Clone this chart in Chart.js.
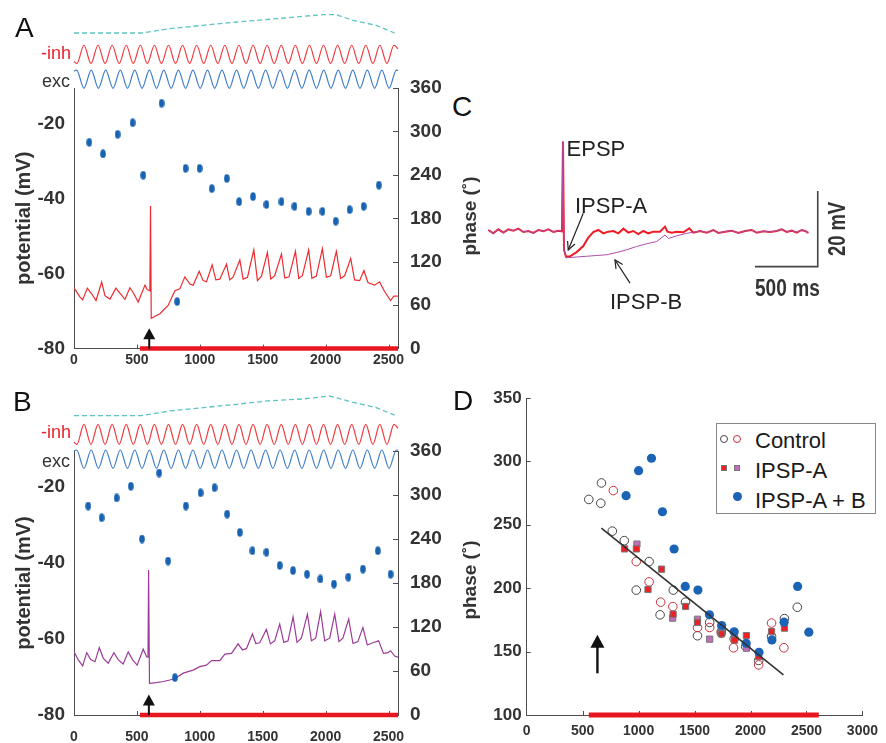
<!DOCTYPE html>
<html><head><meta charset="utf-8"><title>Phase precession figure</title>
<script src="https://cdn.jsdelivr.net/npm/chart.js@4.4.1/dist/chart.umd.min.js"></script>
<style>
html,body{margin:0;padding:0;background:#fff;}
body{position:relative;width:886px;height:743px;overflow:hidden;font-family:'Liberation Sans',Arial,sans-serif;color:#222;}
canvas{position:absolute;}
.t{position:absolute;white-space:nowrap;line-height:1;}
.rot{position:absolute;white-space:nowrap;line-height:1;transform:translate(-50%,-50%) rotate(-90deg);}
.mk{position:absolute;box-sizing:border-box;}
</style></head><body>
<canvas id="cA" width="450" height="372" style="left:0;top:0"></canvas>
<canvas id="cB" width="450" height="371" style="left:0;top:372px"></canvas>
<canvas id="cC" width="400" height="190" style="left:480px;top:120px"></canvas>
<canvas id="cD" width="426" height="363" style="left:460px;top:380px"></canvas>

<div class="t" style="left:15px;top:14.4px;font-size:28px;color:#111">A</div>
<div class="t" style="left:13px;top:388px;font-size:28px;color:#111">B</div>
<div class="t" style="left:452px;top:93.4px;font-size:28px;color:#111">C</div>
<div class="t" style="left:453px;top:387px;font-size:28px;color:#111">D</div>

<div class="t" style="left:0;width:71px;text-align:right;top:44px;font-size:18px;color:#e8242a">-inh</div>
<div class="t" style="left:0;width:70px;text-align:right;top:72px;font-size:18px;color:#333">exc</div>
<div class="t" style="left:0;width:71px;text-align:right;top:422.5px;font-size:18px;color:#e8242a">-inh</div>
<div class="t" style="left:0;width:70px;text-align:right;top:451.5px;font-size:18px;color:#333">exc</div>

<div class="rot" style="left:468.5px;top:216px;font-size:19px;font-weight:bold;color:#333">phase (˚)</div>
<div class="rot" style="left:469px;top:580px;font-size:19px;font-weight:bold;color:#333">phase (˚)</div>

<div class="t" style="left:566.6px;top:138px;font-size:22px;color:#222">EPSP</div>
<div class="t" style="left:575px;top:194.7px;font-size:22px;color:#222">IPSP-A</div>
<div class="t" style="left:610px;top:291.4px;font-size:22px;color:#222">IPSP-B</div>
<div class="rot" style="left:837px;top:229px;font-size:23px;font-weight:bold;color:#333;transform:translate(-50%,-50%) rotate(-90deg) scaleX(0.8)">20 mV</div>
<div class="t" style="left:755px;top:277px;font-size:23px;font-weight:bold;color:#333;transform-origin:0 0;transform:scaleX(0.83)">500 ms</div>

<div style="position:absolute;left:716px;top:423px;width:158px;height:89px;border:1px solid #888;background:#fff"></div>
<span class="mk" style="left:720.3px;top:435.3px;width:8px;height:8px;border:1px solid #444;border-radius:50%"></span>
<span class="mk" style="left:733.3px;top:435.3px;width:8px;height:8px;border:1px solid #c8303a;border-radius:50%"></span>
<span class="mk" style="left:721.3px;top:464.7px;width:6px;height:6px;background:#ec2025;border:1px solid #777"></span>
<span class="mk" style="left:734.3px;top:464.7px;width:6px;height:6px;background:#c46cbc;border:1px solid #777"></span>
<span class="mk" style="left:732.8px;top:492.2px;width:9px;height:9px;background:#1b63b5;border-radius:50%"></span>
<div class="t" style="left:755px;top:429.7px;font-size:22px;color:#1a1a1a">Control</div>
<div class="t" style="left:755px;top:459.7px;font-size:22px;color:#1a1a1a">IPSP-A</div>
<div class="t" style="left:755px;top:489.7px;font-size:22px;color:#1a1a1a">IPSP-A + B</div>

<script>
// ---------- data ----------
const timeTicks = [0, 500, 1000, 1500, 2000, 2500];
const mvTicks = [-80, -60, -40, -20];
const phaseTicks = [0, 60, 120, 180, 240, 300, 360];

// panel A: membrane potential (ms, mV)
const potTimeA = [0,48,69,106,140,175,220,246,286,333,365,405,444,476,510,564,582,603,608,614,683,748,802,841,881,921,947,995,1026,1053,1098,1127,1159,1212,1238,1264,1318,1344,1379,1429,1458,1490,1537,1564,1595,1649,1675,1709,1760,1786,1815,1865,1891,1926,1974,2006,2040,2085,2119,2151,2199,2230,2270,2304,2336,2389,2429,2468,2516,2542,2574];
const potA = [-63.8,-66.3,-67.0,-63.9,-65.4,-67.2,-62.3,-65.9,-66.8,-63.9,-65.2,-66.9,-63.8,-65.4,-67.6,-63.1,-64.3,-64.6,-42.0,-71.9,-70.7,-68.5,-64.6,-64.1,-60.9,-62.8,-63.1,-59.4,-61.9,-62.2,-57.7,-61.7,-61.5,-57.5,-61.7,-61.0,-56.4,-61.5,-61.0,-53.7,-61.9,-60.7,-54.4,-61.5,-60.6,-54.8,-61.2,-60.9,-54.1,-61.3,-60.6,-53.7,-61.3,-60.7,-53.4,-61.0,-60.6,-54.1,-61.3,-60.6,-56.0,-61.7,-61.9,-59.2,-62.4,-63.1,-62.2,-64.8,-67.2,-66.0,-66.0];
// panel A: spike phase (ms, deg)
const phaseTimeA = [121,230,347,466,550,696,820,887,998,1095,1214,1312,1423,1529,1649,1752,1865,1974,2080,2191,2302,2423];
const phaseA = [285,269,296,312,239.5,339,65,249,249,221,235,203,210,199,203,196.5,189.6,189.6,176,192,196.5,225.8];

// panel B
const potTimeB = [0,34,69,101,133,167,201,233,272,317,352,391,431,466,502,550,577,588,593,600,656,709,762,802,868,907,947,1000,1053,1093,1159,1199,1252,1304,1339,1371,1418,1445,1476,1529,1561,1595,1635,1667,1701,1741,1772,1807,1855,1887,1921,1960,1992,2032,2072,2106,2137,2183,2217,2256,2296,2331,2376,2421,2460,2495,2516,2548,2575];
const potB = [-63.4,-65.5,-67.1,-63.6,-65.4,-66.0,-62.3,-65.1,-66.4,-63.6,-65.5,-66.6,-63.4,-65.5,-66.9,-62.7,-64.7,-64.8,-41.9,-71.7,-71.5,-71.2,-70.8,-70.4,-69.0,-68.6,-68.2,-67.3,-66.9,-65.7,-65.7,-64.0,-63.8,-61.3,-62.9,-62.5,-58.7,-61.2,-61.0,-57.5,-61.3,-60.5,-56.1,-60.9,-60.5,-54.2,-60.9,-59.8,-53.5,-60.5,-59.8,-52.8,-60.5,-59.8,-53.5,-60.7,-59.8,-54.8,-61.2,-60.7,-57.0,-61.6,-61.0,-60.5,-63.8,-63.6,-63.1,-64.5,-64.8];
const phaseTimeB = [113,220,339,452,540,677,748,802,889,1006,1117,1217,1318,1418,1529,1635,1741,1852,1958,2066,2180,2296,2415,2516];
const phaseB = [285,269,296,312,240,330,210,51,285,303,310,274,249,224,222,204,197,192,185.5,178.6,188,199,224,192];

// input oscillations (peak / trough times in ms, normalised amplitude)
const inhPeakT = [79,191,303,415,527,639,751,863,975,1087,1199,1311,1423,1535,1647,1759,1871,1983,2095,2207,2319,2431,2543];
const inhTroughT = [23,135,247,359,471,583,695,807,919,1031,1143,1255,1367,1479,1591,1703,1815,1927,2039,2151,2263,2375,2487];
const inhEnds = [-0.8, 0.6];
const excPeakT = [21,137,252,368,483,599,714,830,945,1061,1176,1292,1407,1523,1638,1754,1869,1985,2100,2216,2331,2447,2562];
const excTroughT = [79,194,310,425,541,656,772,887,1003,1118,1234,1349,1465,1580,1696,1811,1927,2042,2158,2273,2389,2504];
const excEnds = [0.9, 0.95];
// slow envelope (dashed)
const envTimeA = [0,537,762,1026,1291,1556,1820,1979,2085,2217,2402,2548];
const envA = [0,0,0.24,0.42,0.6,0.75,0.91,1,1,0.69,0.42,0];
const envTimeB = [0,530,762,1026,1291,1556,1820,2032,2217,2402,2548];
const envB = [0,0,0.24,0.41,0.58,0.76,0.85,1,0.68,0.41,0.03];
// stimulation bars and arrows (ms)
const stimA = [524, 2575];
const stimD = [555, 2610];
const arrowTimeA = 598, arrowTimeB = 595, arrowTimeD = 632;

// panel C: traces (ms, mV relative to rest)
const cTimeA = [0,40,80,120,160,200,240,280,320,360,400,440,479,519,559,588,596,604,620,652,705,758,798,838,878,918,958,998,1038,1078,1117,1157,1197,1237,1277,1317,1370,1410,1429,1463,1503,1557,1604,1636,1690,1743,1796,1836,1889,1942,1995,2049,2102,2142,2195,2248,2301,2341,2381,2421,2461,2501,2527,2554];
const cIpspA = [0.44,-0.44,0.62,-0.26,0.62,0.26,0.79,-0.09,0.18,-0.35,0.44,0.09,0.62,-0.09,0.26,0.09,23.8,-4.84,-6.6,-6.5,-5.4,-3.8,-1.6,-0.09,0.44,-0.44,0,0.18,-0.44,0.79,-0.26,0.18,-0.62,0.18,-0.44,0,0,1.32,0,-0.26,0,-0.18,0.88,-0.26,0.18,-0.26,0.44,-0.35,0,0.26,-0.35,0.18,0.44,-0.26,0.09,-0.09,0.18,0.62,-0.09,0.26,-0.26,0.44,0.18,-0.35];
const cTimeB = [620,705,785,865,945,1025,1104,1184,1264,1344,1410,1437,1503,1583,1663];
const cIpspB = [-6.9,-6.7,-6.5,-6.3,-6.1,-5.5,-4.8,-3.9,-3.2,-2.6,-0.9,-1.8,-1.1,-0.44,0];
const scaleBarT = [2128, 2629];
const scaleBarV = [-9.25, 10.75];

// panel D: phase vs time
const ctrlBlackT = [555,662,668,765,872,979,1094,1192,1310,1419,1526,1635,1739,1854,1957,2073,2188,2303,2418];
const ctrlBlackP = [270,267,283,245,237.5,198.5,221,179,198.5,189,162.5,173,166,160,154,143,162,176,185];
const ctrlRedT = [774,979,1094,1197,1306,1526,1635,1739,1848,2073,2188,2298];
const ctrlRedP = [277,221,205,189,185.5,169,169,164.5,153,139.5,172.5,153];
const ipspRedT = [874,980,1084,1205,1308,1420,1526,1741,1857,1963,2073,2188,2303];
const ipspRedP = [231,231,199,215,179.5,185.6,173,164,159,162.6,146,165.8,168.5];
const ipspPurpleT = [985,1304,1526,1635,1741,1857,1963];
const ipspPurpleP = [234.8,176.4,175.5,159.8,166,161,152.7];
const ipspABT = [888,1000,1115,1213,1317,1417,1530,1633,1742,1854,1961,2076,2191,2300,2421,2521];
const ipspABP = [273,292.7,302.5,260.3,230.9,201.4,198.5,179,170.6,165.6,156.6,149.5,159.2,173.2,201.4,165.3];
const fitT = [667, 2294];
const fitP = [247.4, 131.6];
const dTimeTicks = [0,500,1000,1500,2000,2500,3000];
const dPhaseTicks = [100,150,200,250,300,350];

// ---------- helpers ----------
const SANS = "'Liberation Sans', Arial, sans-serif";
Chart.defaults.font.family = SANS;
Chart.defaults.color = '#333';

function zip(xs, ys){ const n=Math.min(xs.length, ys.length), out=[]; for(let i=0;i<n;i++) out.push({x:xs[i], y:ys[i]}); return out; }
function wave(peaks, troughs, ends, tEnd){
  const pts=[{x:0,y:ends[0]}];
  peaks.forEach(t=>pts.push({x:t,y:1}));
  troughs.forEach(t=>pts.push({x:t,y:-1}));
  pts.sort((a,b)=>a.x-b.x);
  pts.push({x:tEnd,y:ends[1]});
  return pts;
}
// axis range so that value vLow sits at pixel pLow and vHigh at pHigh (page coords)
function bandRange(pLow, pHigh, vLow, vHigh, top, bottom){
  const k=(pLow-pHigh)/(vHigh-vLow);
  const min=vLow-(bottom-pLow)/k;
  return {min, max:min+(bottom-top)/k};
}
const fixTicks = vals => s => { s.ticks = vals.map(v=>({value:v})); };
const plain = v => String(v);

const innerTicks = {
  id:'innerTicks',
  beforeDatasetsDraw(chart, args, opts){
    const ctx=chart.ctx, ca=chart.chartArea;
    (opts.items||[]).forEach(it=>{
      const s=chart.scales[it.scale];
      ctx.save(); ctx.strokeStyle=it.color||'#555'; ctx.lineWidth=1;
      it.values.forEach(v=>{
        const p=Math.round(s.getPixelForValue(v))+0.5;
        ctx.beginPath();
        if (s.isHorizontal()) { ctx.moveTo(p, ca.bottom); ctx.lineTo(p, ca.bottom-it.len); }
        else if (s.position==='left') { ctx.moveTo(ca.left, p); ctx.lineTo(ca.left+it.len, p); }
        else { ctx.moveTo(ca.right, p); ctx.lineTo(ca.right-it.len, p); }
        ctx.stroke();
      });
      ctx.restore();
    });
  }
};
const arrows = {
  id:'arrows',
  afterDatasetsDraw(chart, args, opts){
    const ctx=chart.ctx;
    (opts.items||[]).forEach(a=>{
      const xs=chart.scales[a.xAxis||'x'], ys=chart.scales[a.yAxis||'y'];
      const x0=xs.getPixelForValue(a.x0), y0=ys.getPixelForValue(a.y0);
      const x1=xs.getPixelForValue(a.x1), y1=ys.getPixelForValue(a.y1);
      const ang=Math.atan2(y1-y0, x1-x0), c=Math.cos(ang), s=Math.sin(ang);
      ctx.save(); ctx.strokeStyle=a.color; ctx.fillStyle=a.color; ctx.lineWidth=a.width; ctx.lineCap='butt';
      const back = a.filled ? a.headLen*0.8 : 0;
      ctx.beginPath(); ctx.moveTo(x0,y0); ctx.lineTo(x1-c*back, y1-s*back); ctx.stroke();
      const hx=x1-c*a.headLen, hy=y1-s*a.headLen, px=-s*a.headW/2, py=c*a.headW/2;
      ctx.beginPath(); ctx.moveTo(hx+px, hy+py); ctx.lineTo(x1,y1); ctx.lineTo(hx-px, hy-py);
      if (a.filled) { ctx.closePath(); ctx.fill(); } else { ctx.stroke(); }
      ctx.restore();
    });
  }
};

// vertical elliptic spike marker
const dotImg = document.createElement('canvas'); dotImg.width=6; dotImg.height=9;
(function(){ const c=dotImg.getContext('2d'); c.fillStyle='#1862b2'; c.beginPath(); c.ellipse(3,4.5,2.8,4.3,0,0,Math.PI*2); c.fill(); })();

const axisColor = '#4d4d4d';

function panelAB(id, d){
  const top=d.pageTop, areaTop=d.areaTop, areaBottom=d.areaBottom; // page coords
  return new Chart(document.getElementById(id), {
    type:'scatter',
    plugins:[innerTicks, arrows],
    data:{datasets:[
      {data:[{x:d.stim[0],y:-80},{x:d.stim[1],y:-80}], showLine:true, borderColor:'#e8171f', borderWidth:4.5, pointRadius:0, clip:false, yAxisID:'y'},
      {data:zip(d.phaseT, d.phase), yAxisID:'yR', pointStyle:dotImg, pointRadius:4, showLine:false},
      {data:zip(d.potT, d.pot), yAxisID:'y', showLine:true, borderColor:d.potColor, borderWidth:1.2, pointRadius:0, tension:0},
      {data:wave(excPeakT, excTroughT, excEnds, 2575), yAxisID:'yExc', showLine:true, borderColor:'#3e7dca', borderWidth:1.2, pointRadius:0, cubicInterpolationMode:'monotone', clip:false},
      {data:wave(inhPeakT, inhTroughT, inhEnds, 2575), yAxisID:'yInh', showLine:true, borderColor:'#ef3b40', borderWidth:1.2, pointRadius:0, cubicInterpolationMode:'monotone', clip:false},
      {data:zip(d.envT, d.env), yAxisID:'yEnv', showLine:true, borderColor:'#5cc4c4', borderWidth:1.3, borderDash:[5,3], pointRadius:0, clip:false}
    ]},
    options:{
      responsive:false, animation:false, events:[],
      layout:{padding:{top:areaTop-top, left:0, right:0, bottom:0}},
      plugins:{legend:{display:false}, tooltip:{enabled:false},
        innerTicks:{items:[{scale:'x', values:timeTicks.slice(1), len:4, color:axisColor},{scale:'yR', values:phaseTicks, len:5, color:axisColor}]},
        arrows:{items:[{x0:d.arrowT, y0:-80, x1:d.arrowT, y1:-74.6, headLen:11, headW:12, width:2, color:'#111', filled:true}]}
      },
      scales:{
        x:{type:'linear', position:'bottom', min:0, max:2575, afterFit:s=>{s.height=d.xH;}, afterBuildTicks:fixTicks(timeTicks),
           grid:{display:false, drawTicks:false}, border:{display:true, color:axisColor, width:1},
           ticks:{padding:d.xPad, autoSkip:false, maxRotation:0, color:'#333', callback:plain, font:{family:SANS, size:14, weight:'bold'}}},
        y:{position:'left', min:-80, max:-10.6, afterFit:s=>{s.width=74;}, afterBuildTicks:fixTicks(mvTicks),
           grid:{display:false, drawTicks:false}, border:{display:true, color:axisColor, width:1},
           title:{display:true, text:'potential (mV)', color:'#333', font:{family:SANS, size:20, weight:'bold'}, padding:{top:12, bottom:0}},
           ticks:{padding:9, color:'#333', callback:plain, font:{family:SANS, size:19, weight:'bold'}}},
        yR:{position:'right', min:0, max:360, afterFit:s=>{s.width=52;}, afterBuildTicks:fixTicks(phaseTicks),
           grid:{display:false, drawTicks:false}, border:{display:true, color:axisColor, width:1},
           ticks:{padding:12, color:'#333', callback:plain, font:{family:SANS, size:19, weight:'bold'}}},
        yExc:Object.assign({display:false}, bandRange(d.exc[0], d.exc[1], -1, 1, areaTop, areaBottom)),
        yInh:Object.assign({display:false}, bandRange(d.inh[0], d.inh[1], -1, 1, areaTop, areaBottom)),
        yEnv:Object.assign({display:false}, bandRange(d.envPx[0], d.envPx[1], 0, 1, areaTop, areaBottom))
      }
    }
  });
}

panelAB('cA', {pageTop:0, areaTop:88, areaBottom:350, xH:22, xPad:3,
  stim:stimA, phaseT:phaseTimeA, phase:phaseA, potT:potTimeA, pot:potA, potColor:'#ee2b30',
  envT:envTimeA, env:envA, exc:[88.3,70], inh:[63.3,45], envPx:[32.7,14.3], arrowT:arrowTimeA});
panelAB('cB', {pageTop:372, areaTop:451, areaBottom:715, xH:28, xPad:14,
  stim:stimA, phaseT:phaseTimeB, phase:phaseB, potT:potTimeB, pot:potB, potColor:'#9c3c98',
  envT:envTimeB, env:envB, exc:[468.3,450], inh:[444.3,424.3], envPx:[415.7,396], arrowT:arrowTimeB});

// ---------- panel C ----------
const purplePts = zip(cTimeA, cIpspA).filter(p=>p.x<=604).concat(zip(cTimeB, cIpspB), zip(cTimeA, cIpspA).filter(p=>p.x>=1690));
new Chart(document.getElementById('cC'), {
  type:'scatter',
  plugins:[arrows],
  data:{datasets:[
    {data:purplePts, showLine:true, borderColor:'#b04aa8', borderWidth:1, pointRadius:0},
    {data:zip(cTimeA, cIpspA), showLine:true, borderColor:'#ee1d25', borderWidth:2, pointRadius:0},
    {data:[{x:scaleBarT[0],y:scaleBarV[0]},{x:scaleBarT[1],y:scaleBarV[0]},{x:scaleBarT[1],y:scaleBarV[1]}], showLine:true, borderColor:'#444', borderWidth:1.6, pointRadius:0}
  ]},
  options:{
    responsive:false, animation:false, events:[],
    layout:{padding:0},
    plugins:{legend:{display:false}, tooltip:{enabled:false},
      arrows:{items:[
        {x0:758, y0:4.86, x1:638, y1:-4.83, headLen:8, headW:8, width:1.2, color:'#222', filled:false},
        {x0:1131, y0:-13.6, x1:1011, y1:-7.48, headLen:8, headW:8, width:1.2, color:'#222', filled:false}
      ]}},
    scales:{ x:{display:false, min:-66.2, max:3125.8}, y:{display:false, min:-20.7, max:29.5} }
  }
});

// ---------- panel D ----------
new Chart(document.getElementById('cD'), {
  type:'scatter',
  plugins:[innerTicks, arrows],
  data:{datasets:[
    {data:[{x:stimD[0],y:100},{x:stimD[1],y:100}], showLine:true, borderColor:'#e8171f', borderWidth:5, pointRadius:0, clip:false},
    {data:zip(fitT, fitP), showLine:true, borderColor:'#333', borderWidth:1.6, pointRadius:0},
    {data:zip(ipspABT, ipspABP), pointStyle:'circle', pointRadius:4.6, backgroundColor:'#1b63b5', borderWidth:0},
    {data:zip(ipspRedT, ipspRedP), pointStyle:'rect', pointRadius:4.4, backgroundColor:'#ec2025', borderColor:'#777', borderWidth:1},
    {data:zip(ipspPurpleT, ipspPurpleP), pointStyle:'rect', pointRadius:4.4, backgroundColor:'#c46cbc', borderColor:'#777', borderWidth:1},
    {data:zip(ctrlRedT, ctrlRedP), pointStyle:'circle', pointRadius:4.3, backgroundColor:'rgba(0,0,0,0)', borderColor:'#c8303a', borderWidth:1},
    {data:zip(ctrlBlackT, ctrlBlackP), pointStyle:'circle', pointRadius:4.3, backgroundColor:'rgba(0,0,0,0)', borderColor:'#444', borderWidth:1}
  ]},
  options:{
    responsive:false, animation:false, events:[],
    layout:{padding:{top:18, left:0, right:12, bottom:0}},
    plugins:{legend:{display:false}, tooltip:{enabled:false},
      innerTicks:{items:[{scale:'x', values:dTimeTicks.slice(1), len:4, color:axisColor},{scale:'y', values:dPhaseTicks, len:4, color:axisColor}]},
      arrows:{items:[{x0:arrowTimeD, y0:132.9, x1:arrowTimeD, y1:163.2, headLen:13, headW:14, width:2.4, color:'#111', filled:true}]}
    },
    scales:{
      x:{type:'linear', min:0, max:3000, afterFit:s=>{s.height=28;}, afterBuildTicks:fixTicks(dTimeTicks),
         grid:{display:false, drawTicks:false}, border:{display:true, color:axisColor, width:1},
         ticks:{padding:8, autoSkip:false, maxRotation:0, color:'#333', callback:plain, font:{family:SANS, size:14, weight:'bold'}}},
      y:{position:'left', min:100, max:350, afterFit:s=>{s.width=66.7;}, afterBuildTicks:fixTicks(dPhaseTicks),
         grid:{display:false, drawTicks:false}, border:{display:true, color:axisColor, width:1},
         ticks:{padding:5, color:'#333', callback:plain, font:{family:SANS, size:17, weight:'bold'}}}
    }
  }
});
</script>
</body></html>
